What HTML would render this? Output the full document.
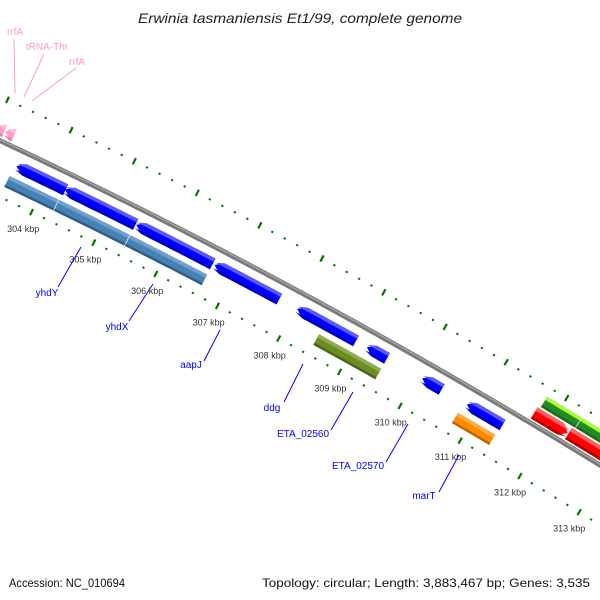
<!DOCTYPE html>
<html><head><meta charset="utf-8"><style>
html,body{margin:0;padding:0;background:#fff;}
svg{display:block;font-family:"Liberation Sans",sans-serif;}
</style></head><body>
<svg id="map" width="600" height="600" viewBox="0 0 600 600" xmlns="http://www.w3.org/2000/svg">
<rect width="600" height="600" fill="#fff"/>
<g id="layer"></g>
<text x="138" y="23" textLength="324" lengthAdjust="spacingAndGlyphs" font-size="14" font-style="italic" fill="#222">Erwinia tasmaniensis Et1/99, complete genome</text>
<text x="9" y="587" textLength="116" lengthAdjust="spacingAndGlyphs" font-size="12" fill="#111">Accession: NC_010694</text>
<text x="262" y="587" textLength="328" lengthAdjust="spacingAndGlyphs" font-size="12" fill="#111">Topology: circular; Length: 3,883,467 bp; Genes: 3,535</text>
</svg>
<script>
// ---- data ----
const tickStart = 303.0;
const tickEnd = 314.0;
const majorTicks = [304, 305, 306, 307, 308, 309, 310, 311, 312, 313];
const tickLabels = ["304 kbp","305 kbp","306 kbp","307 kbp","308 kbp","309 kbp","310 kbp","311 kbp","312 kbp","313 kbp"];
const geneNames = ["g1","g2","g3","g4","g5","g6","g7","g8","s1","s2","s3","olive","orange","red1","red2","green1","green2","pink1","pink2"];
const geneStarts = [303.52,304.29,305.43,306.69,308.03,309.17,310.08,310.82,303.49,304.28,305.42,308.48,310.77,311.71,312.28,311.75,312.33,303.02,303.16];
const geneEnds   = [304.30,305.42,306.66,307.74,308.99,309.50,310.40,311.41,304.27,305.41,306.66,309.50,311.39,312.27,313.40,312.32,313.40,303.15,303.30];
const geneStrand = [-1,-1,-1,-1,-1,-1,-1,-1,0,0,0,0,0,1,1,0,0,-1,-1];
const geneRing   = ["in1","in1","in1","in1","in1","in1","in1","in1","in2","in2","in2","in2","in2","out1","out1","out2","out2","out1","out1"];
const geneColor  = ["#0000ff","#0000ff","#0000ff","#0000ff","#0000ff","#0000ff","#0000ff","#0000ff","#4682b4","#4682b4","#4682b4","#6b8e23","#ff8c00","#ff0000","#ff0000","#228b22","#228b22","#ff9ec8","#ff9ec8"];
const geneLight  = ["#5a5aff","#5a5aff","#5a5aff","#5a5aff","#5a5aff","#5a5aff","#5a5aff","#5a5aff","#6fa0cc","#6fa0cc","#6fa0cc","#8fad4f","#ffab45","#ff6060","#ff6060","#aaff33","#aaff33","#ffc0dd","#ffc0dd"];
const geneDark   = ["#0000b0","#0000b0","#0000b0","#0000b0","#0000b0","#0000b0","#0000b0","#0000b0","#2f5d86","#2f5d86","#2f5d86","#4a6416","#c06600","#b00000","#b00000","#1d6b1d","#1d6b1d","#e07aa8","#e07aa8"];
const labelText = ["yhdY","yhdX","aapJ","ddg","ETA_02560","ETA_02570","marT"];
// ---- geometry ----
const CX=-2618, CY=5697.8, R0=6143;
const ringD = {in1:[10,22], in2:[28,40], out1:[-17,-4], out2:[-31,-19]};
function ang(k){ return (-64.22 + (k-304)*0.6529)*Math.PI/180; }
function pt(k,d){ const r=R0-d, a=ang(k); return [CX+r*Math.cos(a), CY+r*Math.sin(a)]; }
const NS="http://www.w3.org/2000/svg";
const layer=document.getElementById('layer');
function mk(tag,attrs){ const e=document.createElementNS(NS,tag); for(const k in attrs) e.setAttribute(k,attrs[k]); layer.appendChild(e); return e; }
function arcPts(k1,k2,d){ const out=[]; const n=Math.max(2,Math.ceil((k2-k1)*20)); for(let i=0;i<=n;i++){ out.push(pt(k1+(k2-k1)*i/n,d)); } return out; }
function poly(points){ return points.map(p=>p[0].toFixed(1)+','+p[1].toFixed(1)).join(' '); }

// backbone
let e=mk('polyline',{points:poly(arcPts(302.5,314.5,0)),fill:'none',stroke:'#7a7a7a','stroke-width':5});


e=mk('polyline',{points:poly(arcPts(302.5,314.5,-0.8)),fill:'none',stroke:'#a8a8a8','stroke-width':1.2});



// ticks
const nT=Math.round((tickEnd-tickStart)/0.2);
for(let i=0;i<=nT;i++){
  const k=tickStart+i*0.2;
  const major=Math.abs(k-Math.round(k))<0.01;
  [[-40,'outer'],[51,'inner']].forEach(([d,side])=>{
    const h=major?3.5:1;
    const a=pt(k,d-h), b=pt(k,d+h);
    const t=mk('line',{x1:a[0],y1:a[1],x2:b[0],y2:b[1],stroke:'#007700','stroke-width':2.2});
    
    
  });
}
majorTicks.forEach((k,i)=>{
  const p=pt(k,70);
  const t=mk('text',{x:p[0].toFixed(1),y:(p[1]+3).toFixed(1),'text-anchor':'middle','font-size':'9',fill:'#333'});
  t.textContent=tickLabels[i];
  
  
});

// genes
const HEAD=0.12;
geneNames.forEach((nm,i)=>{
  const s=geneStarts[i], en=geneEnds[i], st=geneStrand[i];
  const [d1,d2]=ringD[geneRing[i]]; const dm=(d1+d2)/2;
  function shape(o,inn){
    let a=s,b=en, pts=[];
    const tipD=Math.max(o,Math.min(inn,dm));
    if(st<0){ a=Math.min(en,s+HEAD);
      pts=pts.concat(arcPts(a,b,o)); pts=pts.concat(arcPts(a,b,inn).reverse()); pts.push(pt(s,tipD));
      return pts; }
    if(st>0){ b=Math.max(s,en-HEAD);
      pts=pts.concat(arcPts(a,b,o)); pts.push(pt(en,tipD)); pts=pts.concat(arcPts(a,b,inn).reverse()); return pts; }
    return arcPts(a,b,o).concat(arcPts(a,b,inn).reverse());
  }
  let g=mk('polygon',{points:poly(shape(d1,d2)),fill:geneColor[i]});
  
  
  let l=mk('polygon',{points:poly(shape(d1,d1+(d2-d1)*0.3)),fill:geneLight[i]});
  
  
  let dk=mk('polygon',{points:poly(shape(d2-(d2-d1)*0.2,d2)),fill:geneDark[i]});
  
  
});

// gene callout labels
const labelPos=[[47,296],[117,330],[191,368],[272,411],[303,437],[358,469],[424,499]];
const labelLine=[[58,287,81,247],[129,321,153,284],[204,361,220,330],[284,402,303,364],[331,430,353,392],[386,462,408,424],[439,492,459,455]];
labelText.forEach((t,i)=>{
  const L=labelLine[i];
  const ln=mk('line',{x1:L[0],y1:L[1],x2:L[2],y2:L[3],stroke:'#0000ff','stroke-width':1});
  
  
  const tx=mk('text',{x:labelPos[i][0],y:labelPos[i][1],'text-anchor':'middle','font-size':'10',fill:'#0000ff'});
  tx.textContent=t;
  
  
});
// pink RNA labels
const pinkText=["rrfA","tRNA-Thr","rrfA"];
const pinkPos=[[15,35],[47,50],[77,65]];
const pinkLine=[[14,39,15,93],[44,54,24,97],[76,68,32,101]];
pinkText.forEach((t,i)=>{
  const L=pinkLine[i];
  const ln=mk('line',{x1:L[0],y1:L[1],x2:L[2],y2:L[3],stroke:'#ff99cc','stroke-width':1});
  
  
  const tx=mk('text',{x:pinkPos[i][0],y:pinkPos[i][1],'text-anchor':'middle','font-size':'10',fill:'#ff99cc'});
  tx.textContent=t;
  
  
});
</script>
</body></html>
